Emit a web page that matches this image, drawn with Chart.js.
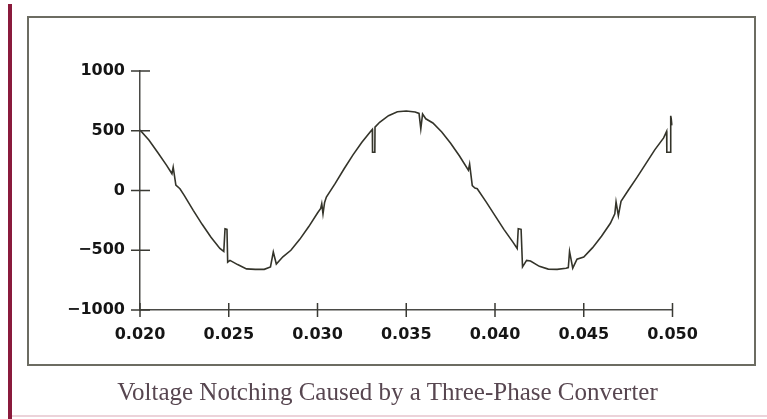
<!DOCTYPE html>
<html>
<head>
<meta charset="utf-8">
<script src="https://cdn.jsdelivr.net/npm/chart.js@4.4.1/dist/chart.umd.min.js"></script>
<style>
  html, body { margin: 0; padding: 0; background: #fff; }
  #page { position: relative; width: 767px; height: 419px; overflow: hidden; }
  #redRule { position: absolute; left: 8px; top: 4px; width: 4px; height: 415px; background: #8a1a3c; }
  #baseRule { position: absolute; left: 12px; top: 415px; width: 755px; height: 2px; background: #ecd3da; }
  #frame { position: absolute; left: 27px; top: 16px; width: 725px; height: 346px; border: 2px solid #6c6c62; }
  #caption { position: absolute; left: 28px; width: 719px; top: 378px; line-height: 28px; text-align: center;
             font-family: "Liberation Serif", "Times New Roman", serif; font-size: 25px; color: #574650; }
  #wave { position: absolute; left: 0; top: 0; }
</style>
</head>
<body>
<div id="page">
  <div id="redRule"></div>
  <div id="baseRule"></div>
  <div id="frame"></div>
  <canvas id="wave" width="767" height="419"></canvas>
  <div id="caption">Voltage Notching Caused by a Three-Phase Converter</div>
</div>
<script>
// time in seconds
const timeSec = [
  0.0200, 0.0205, 0.0210, 0.0215, 0.02180, 0.02187, 0.02202, 0.02225,
  0.0225, 0.0230, 0.0235, 0.0240, 0.0245, 0.02472, 0.02479, 0.02490, 0.02494, 0.02507,
  0.0255, 0.0260, 0.0265, 0.0270, 0.02735, 0.02751, 0.02768, 0.02805,
  0.0285, 0.0290, 0.0295, 0.0300, 0.03018, 0.03024, 0.03031, 0.03040,
  0.0305, 0.0310, 0.0315, 0.0320, 0.0325, 0.0330, 0.03309, 0.03310, 0.03323, 0.03324,
  0.0335, 0.0340, 0.0345, 0.0350, 0.0355, 0.03572, 0.03582, 0.03592, 0.03610,
  0.0365, 0.0370, 0.0375, 0.0380, 0.03850, 0.03857, 0.03872, 0.03887,
  0.0390, 0.0395, 0.0400, 0.0405, 0.0410, 0.04125, 0.04131, 0.04147, 0.04155, 0.04178,
  0.0420, 0.0425, 0.0430, 0.0435, 0.0440, 0.04413, 0.04420, 0.04438, 0.04462,
  0.0450, 0.0455, 0.0460, 0.0465, 0.04675, 0.04682, 0.04695, 0.04710,
  0.0475, 0.0480, 0.0485, 0.0490, 0.0495, 0.04967, 0.04968, 0.04988, 0.04990, 0.0500
];

// line voltage in volts, notches included
const voltage = [
  505, 422, 318, 210, 140, 195, 45, 15,
  -43, -166, -283, -391, -485, -510, -320, -325, -600, -585,
  -620, -656, -660, -660, -640, -515, -615, -555,
  -500, -409, -304, -188, -150, -110, -195, -100,
  -55, 59, 182, 298, 404, 496, 512, 320, 320, 530,
  571, 626, 659, 665, 657, 645, 515, 640, 600,
  565, 489, 396, 289, 170, 220, 40, 20,
  15, -95, -210, -325, -430, -485, -320, -325, -640, -585,
  -590, -635, -658, -660, -650, -645, -510, -650, -575,
  -557, -478, -383, -274, -195, -95, -210, -90,
  0, 110, 225, 340, 440, 495, 320, 320, 625, 545
];

const xTicks = [0.020, 0.025, 0.030, 0.035, 0.040, 0.045, 0.050];
const yTicks = [-1000, -500, 0, 500, 1000];

const points = timeSec.map((t, i) => ({ x: t, y: voltage[i] }));

// tick marks that straddle the axis line
const crossTicks = {
  id: 'crossTicks',
  afterDraw(chart) {
    const { ctx, chartArea, scales } = chart;
    ctx.save();
    ctx.strokeStyle = '#3a3a34';
    ctx.lineWidth = 1.5;
    ctx.beginPath();
    scales.x.ticks.forEach(t => {
      const px = scales.x.getPixelForValue(t.value);
      ctx.moveTo(px, chartArea.bottom - 7);
      ctx.lineTo(px, chartArea.bottom + 7);
    });
    scales.y.ticks.forEach(t => {
      const py = scales.y.getPixelForValue(t.value);
      ctx.moveTo(chartArea.left - 9, py);
      ctx.lineTo(chartArea.left + 10, py);
    });
    ctx.stroke();
    ctx.restore();
  }
};

const tickFont = { family: '"DejaVu Sans", sans-serif', size: 16, weight: 'bold' };

new Chart(document.getElementById('wave'), {
  type: 'line',
  data: {
    datasets: [{
      data: points,
      borderColor: '#34342a',
      borderWidth: 1.6,
      pointRadius: 0,
      tension: 0,
      fill: false
    }]
  },
  options: {
    responsive: false,
    animation: false,
    events: [],
    parsing: false,
    layout: { padding: { left: 0, top: 71, right: 94.5, bottom: 69 } },
    plugins: { legend: { display: false }, tooltip: { enabled: false } },
    scales: {
      x: {
        type: 'linear',
        min: 0.020,
        max: 0.050,
        afterBuildTicks: s => { s.ticks = xTicks.map(v => ({ value: v })); },
        afterFit: s => { s.height = 40; },
        grid: { display: false, drawTicks: false },
        border: { display: true, color: '#4a4a46', width: 1.5 },
        ticks: {
          padding: 15,
          color: '#151515',
          font: tickFont,
          maxRotation: 0,
          callback: v => Number(v).toFixed(3)
        }
      },
      y: {
        min: -1000,
        max: 1000,
        afterBuildTicks: s => { s.ticks = yTicks.map(v => ({ value: v })); },
        afterFit: s => { s.width = 140; },
        grid: { display: false, drawTicks: false },
        border: { display: true, color: '#4a4a46', width: 1.5 },
        ticks: {
          padding: 15,
          color: '#151515',
          font: tickFont,
          callback: v => (v < 0 ? '\u2212' + Math.abs(v) : String(v))
        }
      }
    }
  },
  plugins: [crossTicks]
});
</script>
</body>
</html>
